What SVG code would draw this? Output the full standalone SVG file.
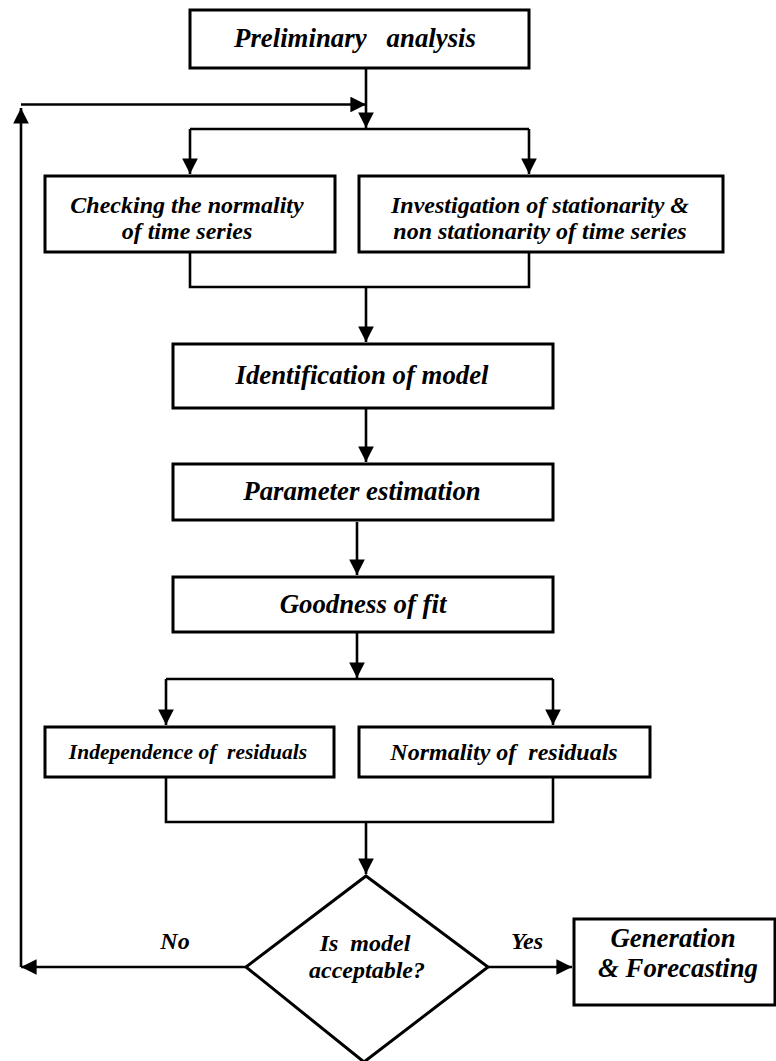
<svg xmlns="http://www.w3.org/2000/svg" width="776" height="1061" viewBox="0 0 776 1061">
<style>
.box{fill:#fff;stroke:#000;stroke-width:3}
.ln{fill:none;stroke:#000;stroke-width:2.6}
.t{font-family:"Liberation Serif","Times New Roman",serif;font-weight:bold;font-style:italic;font-size:26.8px;text-anchor:middle;fill:#000}
.s{font-size:24px}
.xs{font-size:21.5px}
</style>
<defs>
<marker id="ah" viewBox="0 0 10 10" refX="10" refY="5" markerWidth="6" markerHeight="6" markerUnits="strokeWidth" orient="auto">
<path d="M0,0 L10,5 L0,10 z" fill="#000"/>
</marker>
</defs>
<g id="connectors">
<path class="ln" d="M366,69 V128" marker-end="url(#ah)"/>
<path class="ln" d="M21,104.5 H366" marker-end="url(#ah)"/>
<path class="ln" d="M190,129 H529"/>
<path class="ln" d="M190,129 V174" marker-end="url(#ah)"/>
<path class="ln" d="M529,129 V174" marker-end="url(#ah)"/>
<path class="ln" d="M190,252 V287 H529 V252"/>
<path class="ln" d="M366,287 V342" marker-end="url(#ah)"/>
<path class="ln" d="M366,409 V462" marker-end="url(#ah)"/>
<path class="ln" d="M357,522 V575" marker-end="url(#ah)"/>
<path class="ln" d="M357,633 V678" marker-end="url(#ah)"/>
<path class="ln" d="M166,679 H553"/>
<path class="ln" d="M166,679 V725" marker-end="url(#ah)"/>
<path class="ln" d="M553,679 V725" marker-end="url(#ah)"/>
<path class="ln" d="M166,778 V822 H553 V778"/>
<path class="ln" d="M366,822 V874" marker-end="url(#ah)"/>
<path class="ln" d="M246,967 H21" marker-end="url(#ah)"/>
<path class="ln" d="M21,967 V108" marker-end="url(#ah)"/>
<path class="ln" d="M488,967 H572" marker-end="url(#ah)"/>
</g>
<g id="n-preliminary">
<rect class="box" x="190" y="10" width="339" height="58"/>
<text class="t" x="355" y="46.5" xml:space="preserve">Preliminary   analysis</text>
</g>
<g id="n-checking">
<rect class="box" x="45" y="176" width="290" height="76"/>
<text class="t s" x="187" y="213">Checking the normality</text>
<text class="t s" x="187" y="239">of time series</text>
</g>
<g id="n-investigation">
<rect class="box" x="359" y="176" width="364" height="76"/>
<text class="t s" x="540" y="213">Investigation of stationarity &amp;</text>
<text class="t s" x="540" y="239">non stationarity of time series</text>
</g>
<g id="n-identification">
<rect class="box" x="173" y="344" width="380" height="64"/>
<text class="t" x="362" y="384">Identification of model</text>
</g>
<g id="n-parameter">
<rect class="box" x="173" y="464" width="380" height="56"/>
<text class="t" x="362" y="500">Parameter estimation</text>
</g>
<g id="n-goodness">
<rect class="box" x="173" y="577" width="380" height="55"/>
<text class="t" x="363" y="613">Goodness of fit</text>
</g>
<g id="n-independence">
<rect class="box" x="45" y="727" width="289" height="50"/>
<text class="t xs" x="188" y="759" xml:space="preserve">Independence of  residuals</text>
</g>
<g id="n-normality">
<rect class="box" x="359" y="727" width="291" height="50"/>
<text class="t s" x="504" y="760" xml:space="preserve">Normality of  residuals</text>
</g>
<g id="n-decision">
<path class="box" d="M366,876 L488,967 L364,1062 L246,967 z"/>
<text class="t s" x="365" y="951" xml:space="preserve">Is  model</text>
<text class="t s" x="367" y="978">acceptable?</text>
</g>
<g id="n-generation">
<rect class="box" x="574" y="919" width="201" height="86"/>
<text class="t" x="673" y="947">Generation</text>
<text class="t" x="678" y="977">&amp; Forecasting</text>
</g>
<g id="labels">
<text class="t s" x="175" y="949">No</text>
<text class="t s" x="527" y="949">Yes</text>
</g>
</svg>
